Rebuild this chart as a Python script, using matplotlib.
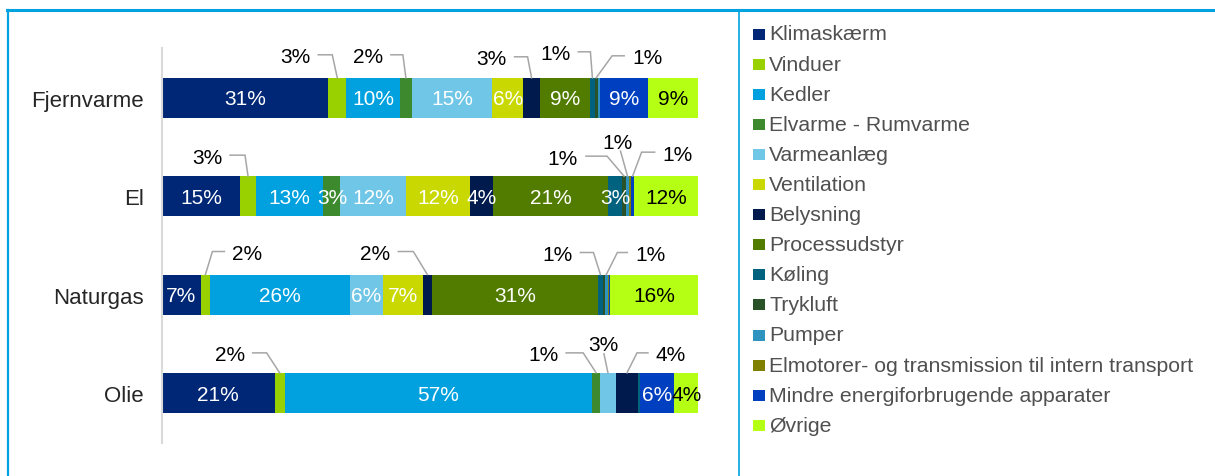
import matplotlib
matplotlib.use("Agg")
import matplotlib.pyplot as plt
from matplotlib.patches import Rectangle
from matplotlib.lines import Line2D
import numpy as np

plt.rcParams['font.family'] = ['Liberation Sans', 'DejaVu Sans']

# ---------------- data ----------------
categories = ["Fjernvarme", "El", "Naturgas", "Olie"]
series = ["Klimaskærm", "Vinduer", "Kedler", "Elvarme - Rumvarme", "Varmeanlæg",
          "Ventilation", "Belysning", "Processudstyr", "Køling", "Trykluft", "Pumper",
          "Elmotorer- og transmission til intern transport",
          "Mindre energiforbrugende apparater", "Øvrige"]
# percent shares per category, in series order
fjernvarme = [31.0, 3.4, 10.0, 2.2, 15.0, 5.8, 3.1, 9.4, 0.8, 0.6, 0.4, 0.0, 9.0, 9.3]
el         = [14.6, 2.9, 12.6, 3.2, 12.3, 11.9, 4.3, 21.4, 2.7, 0.6, 0.7, 0.3, 0.6, 11.9]
naturgas   = [7.2, 1.8, 26.0, 0.0, 6.3, 7.4, 1.6, 31.0, 1.0, 0.3, 0.6, 0.2, 0.2, 16.4]
olie       = [21.0, 1.9, 57.4, 1.4, 3.0, 0.0, 4.1, 0.0, 0.4, 0.0, 0.0, 0.0, 6.4, 4.4]
values = np.array([fjernvarme, el, naturgas, olie])

colors = ["#002776", "#99D100", "#00A1DE", "#3D8A2E", "#6FC6E6", "#C8D800",
          "#001A4D", "#527C00", "#00627F", "#2A5228", "#2F93C0", "#7F8000",
          "#0040C0", "#B4FF14"]

# callout layout: (category, series, side, label_dx, knee_dx, dy)  -- offsets in pixels
callouts = [
    ("Fjernvarme", "Vinduer", "left", -27, -5, -23),
    ("Fjernvarme", "Elvarme - Rumvarme", "left", -23, -3, -23),
    ("Fjernvarme", "Belysning", "left", -25, -4, -21),
    ("Fjernvarme", "Køling", "left", -22, -2, -26),
    ("Fjernvarme", "Trykluft", "right", 36, 16, -22),
    ("El", "Vinduer", "left", -26, -3, -21),
    ("El", "Trykluft", "left", -46, -17, -20),
    ("El", "Pumper", "top", -10, -7, -25),
    ("El", "Mindre energiforbrugende apparater", "right", 30, 9, -24),
    ("Naturgas", "Vinduer", "right", 27, 7, -23),
    ("Naturgas", "Belysning", "left", -37, -14, -23),
    ("Naturgas", "Køling", "left", -28, -7, -22),
    ("Naturgas", "Pumper", "right", 29, 11, -22),
    ("Olie", "Vinduer", "left", -35, -13, -20),
    ("Olie", "Elvarme - Rumvarme", "left", -38, -13, -20),
    ("Olie", "Varmeanlæg", "top", -5, -4, -19),
    ("Olie", "Belysning", "right", 29, 10, -20),
]

# ---------------- figure ----------------
W, H = 1215, 477
fig = plt.figure(figsize=(W / 100, H / 100), dpi=100)
ax = fig.add_axes([162 / W, 1 - 444 / H, 536 / W, (444 - 49) / H])
ylo, yhi = -0.508, 3.508
ax.set_xlim(0, 100)
ax.set_ylim(yhi, ylo)

bar_h = 0.41
y = np.arange(len(categories))
left = np.zeros(len(categories))
for j, s in enumerate(series):
    ax.barh(y, values[:, j], left=left, height=bar_h, color=colors[j], edgecolor='none')
    left += values[:, j]

sx = 100 / (536)
sy = (yhi - ylo) / (444 - 49)

def pct(v):
    return f"{int(v + 0.5)}%"

callout_keys = {(c[0], c[1]) for c in callouts}
cum = np.cumsum(values, axis=1) - values
for i, cat in enumerate(categories):
    for j, s in enumerate(series):
        v = values[i, j]
        if v < 0.5 or (cat, s) in callout_keys:
            continue
        xc = cum[i, j] + v / 2
        col = "black" if s == "Øvrige" else "white"
        ax.text(xc, i + 0.01, pct(v), ha='center', va='center', fontsize=15, color=col)

line_col = "#A6A6A6"
for cat, s, side, ldx, kdx, dy in callouts:
    i = categories.index(cat)
    j = series.index(s)
    v = values[i, j]
    xc = cum[i, j] + v / 2
    top = i - bar_h / 2
    yl = top + dy * sy
    if side == "left":
        xs = [xc + (ldx + 8) * sx, xc + kdx * sx, xc]
        ys = [yl, yl, top]
        ax.text(xc + ldx * sx, yl + 2 * sy, pct(v), ha='right', va='center', fontsize=15, color='black', clip_on=False)
    elif side == "right":
        xs = [xc + (ldx - 8) * sx, xc + kdx * sx, xc]
        ys = [yl, yl, top]
        ax.text(xc + ldx * sx, yl + 2 * sy, pct(v), ha='left', va='center', fontsize=15, color='black', clip_on=False)
    else:
        xs = [xc + kdx * sx, xc]
        ys = [yl, top]
        ax.text(xc + ldx * sx, yl - 9 * sy, pct(v), ha='center', va='center', fontsize=15, color='black', clip_on=False)
    ax.plot(xs, ys, color=line_col, lw=1.1, clip_on=False, solid_joinstyle='miter')

ax.set_yticks(y)
ax.set_yticklabels(categories, fontsize=16, color='#262626')
ax.tick_params(axis='y', length=0, pad=13)
ax.set_xticks([])
for sp in ["top", "right", "bottom"]:
    ax.spines[sp].set_visible(False)
ax.spines["left"].set_color("#D9D9D9")
ax.spines["left"].set_linewidth(1.5)

# ---------------- legend (manual) ----------------
for k, s in enumerate(series):
    yc = 35 + k * 30.1
    fig.add_artist(Rectangle((753 / W, 1 - (yc + 5.5) / H), 12 / W, 11 / H,
                             transform=fig.transFigure, color=colors[k], lw=0))
    fig.text(769 / W, 1 - yc / H, s, ha='left', va='center', fontsize=15.3, color='#505050')

# ---------------- frame ----------------
frame_col = "#00A3E0"
fig.add_artist(Line2D([7 / W, 1], [1 - 11 / H, 1 - 11 / H], transform=fig.transFigure, color=frame_col, lw=2.2))
fig.add_artist(Line2D([8 / W, 8 / W], [0, 1 - 11 / H], transform=fig.transFigure, color=frame_col, lw=1.6))
fig.add_artist(Line2D([739 / W, 739 / W], [0, 1 - 11 / H], transform=fig.transFigure, color=frame_col, lw=1.2))

fig.savefig("out.png", dpi=100)
